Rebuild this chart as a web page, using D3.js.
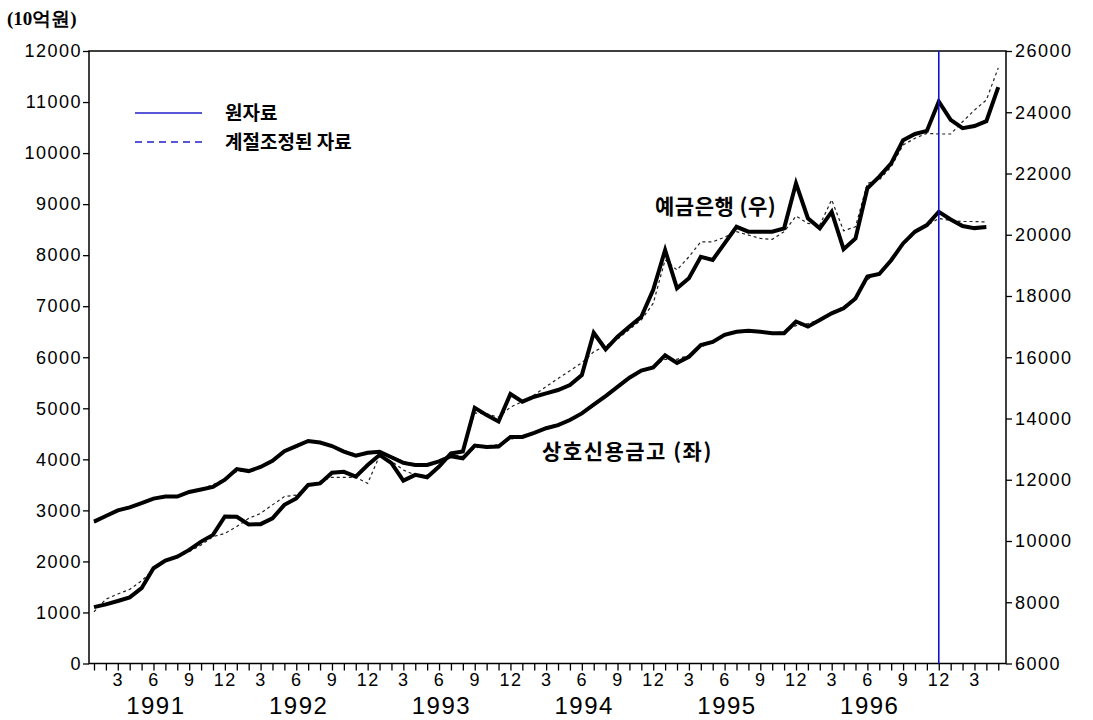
<!DOCTYPE html>
<html><head><meta charset="utf-8">
<script src="https://cdn.jsdelivr.net/npm/d3@7"></script>
<style>
body{margin:0;background:#fff;}
svg{display:block;}
</style></head>
<body>
<svg id="c" width="1093" height="720"></svg>
<script>
// month index 0 = Jan 1991
const years = [1991, 1992, 1993, 1994, 1995, 1996];
const leftTicks = [0,1000,2000,3000,4000,5000,6000,7000,8000,9000,10000,11000,12000];
const rightTicks = [6000,8000,10000,12000,14000,16000,18000,20000,22000,24000,26000];
const monthLabels = [3, 6, 9, 12];
const markerMonth = 71; // Dec 1996

// 상호신용금고 (left axis) raw
const savingsRaw = [2780,2890,3000,3060,3140,3230,3270,3270,3360,3410,3460,3600,
  3810,3770,3850,3970,4160,4260,4360,4330,4260,4150,4070,4130,
  4150,4040,3930,3890,3890,3960,4060,4020,4270,4240,4250,4440,
  4440,4520,4610,4670,4770,4900,5070,5240,5420,5600,5740,5800,
  6040,5890,6010,6240,6300,6440,6500,6520,6500,6470,6470,6700,
  6600,6730,6860,6960,7150,7580,7630,7900,8230,8460,8590,8850,
  8700,8570,8530,8550];
// 상호신용금고 seasonally adjusted
const savingsSA = [2760,2880,2990,3060,3140,3220,3270,3290,3350,3420,3500,3620,
  3760,3790,3860,3980,4150,4260,4340,4330,4270,4170,4100,4110,
  4130,4060,3960,3900,3900,3980,4080,4060,4220,4260,4290,4390,
  4460,4530,4630,4690,4780,4900,5050,5230,5430,5600,5730,5820,
  5960,5960,6040,6200,6300,6420,6490,6520,6510,6480,6500,6620,
  6660,6740,6880,6990,7180,7520,7660,7920,8200,8430,8580,8720,
  8680,8660,8660,8650];
// 예금은행 (right axis) raw
const bankRaw = [7840,7930,8040,8160,8460,9110,9360,9490,9710,9980,10200,10800,
  10790,10540,10550,10740,11180,11390,11830,11880,12230,12260,12100,12480,
  12810,12540,11970,12160,12080,12430,12860,12920,14350,14110,13900,14800,
  14550,14710,14820,14930,15090,15420,16800,16260,16670,17000,17320,18200,
  19500,18250,18580,19280,19180,19720,20260,20100,20100,20100,20210,21680,
  20540,20210,20750,19530,19880,21520,21900,22330,23090,23290,23390,24350,
  23750,23480,23550,23710,24820];
// 예금은행 seasonally adjusted
const bankSA = [7690,8100,8270,8420,8700,9060,9330,9480,9650,9870,10140,10250,
  10470,10740,10900,11180,11450,11500,11800,11950,12080,12080,12080,11880,
  12780,12600,12320,12150,12150,12400,12800,12950,14180,14150,14040,14370,
  14550,14770,15040,15310,15560,15820,16180,16370,16590,16910,17220,17760,
  19180,18850,19280,19770,19770,19920,20100,19990,19880,19850,20100,20610,
  20370,20320,21140,20130,20260,21680,21790,22220,22930,23150,23310,23290,
  23290,23690,24070,24400,25450];

const svg = d3.select("#c");
const L = 89, R = 1006, T = 51, B = 663.5;
const x = d3.scaleLinear().domain([-0.42, 76.65]).range([L, R]);
const yL = d3.scaleLinear().domain([0, 12000]).range([B, T]);
const yR = d3.scaleLinear().domain([6000, 26000]).range([B, T]);

const sans = "'Liberation Sans', Arial, sans-serif";
const kor = "'Noto Sans CJK KR', sans-serif";

// axes
const gl = svg.append("g").attr("transform", `translate(${L},0)`)
  .call(d3.axisLeft(yL).tickValues(leftTicks).tickSize(6).tickPadding(1).tickFormat(d3.format("d")));
const gr = svg.append("g").attr("transform", `translate(${R},0)`)
  .call(d3.axisRight(yR).tickValues(rightTicks).tickSize(6).tickPadding(3).tickFormat(d3.format("d")));
const months = d3.range(0, 77);
const gx = svg.append("g").attr("transform", `translate(0,${B})`)
  .call(d3.axisBottom(x).tickValues(months).tickSize(7).tickPadding(3)
    .tickFormat(i => monthLabels.includes(i % 12 + 1) ? String(i % 12 + 1) : ""));
[gl, gr, gx].forEach(g => {
  g.select(".domain").remove();
  g.selectAll("line").attr("stroke", "#000").attr("stroke-width", 1.3);
  g.selectAll("text").attr("fill", "#000").style("font-family", sans).style("font-size", "18px")
    .style("letter-spacing", "1.5px");
});

// frame
svg.append("rect").attr("x", L).attr("y", T).attr("width", R - L).attr("height", B - T)
  .attr("fill", "none").attr("stroke", "#000").attr("stroke-width", 1.5);

// year labels
svg.selectAll(".yr").data(years).enter().append("text")
  .attr("x", (d, k) => x(12 * k + 5.2)).attr("y", 714)
  .attr("text-anchor", "middle").style("font-family", sans).style("font-size", "24px")
  .style("letter-spacing", "1.5px").text(d => d);

// unit label
svg.append("text").attr("x", 7).attr("y", 25).style("font-family", "'Liberation Serif', serif")
  .style("font-size", "19px").style("font-weight", "bold").text("(10억원)");

// lines
const lineL = d3.line().x((d, i) => x(i)).y(d => yL(d));
const lineR = d3.line().x((d, i) => x(i)).y(d => yR(d));
const sa = [[savingsSA, lineL], [bankSA, lineR]];
sa.forEach(([d, f]) => svg.append("path").attr("d", f(d)).attr("fill", "none")
  .attr("stroke", "#222").attr("stroke-width", 1.2).attr("stroke-dasharray", "3,3"));
const raw = [[savingsRaw, lineL], [bankRaw, lineR]];
raw.forEach(([d, f]) => svg.append("path").attr("d", f(d)).attr("fill", "none")
  .attr("stroke", "#000").attr("stroke-width", 4).attr("stroke-linejoin", "miter"));

// vertical marker
svg.append("line").attr("x1", x(markerMonth)).attr("x2", x(markerMonth))
  .attr("y1", T).attr("y2", B).attr("stroke", "#1010d0").attr("stroke-width", 1.6);

// legend
const leg = [{t: "원자료", dash: null, y: 113}, {t: "계절조정된 자료", dash: "7,5", y: 142}];
leg.forEach(d => {
  svg.append("line").attr("x1", 135).attr("x2", 202).attr("y1", d.y).attr("y2", d.y)
    .attr("stroke", "#2020c8").attr("stroke-width", 1.5).attr("stroke-dasharray", d.dash);
  svg.append("text").attr("x", 225).attr("y", d.y + 7).style("font-family", kor)
    .style("font-size", "19px").style("font-weight", "bold").text(d.t);
});

// series labels
svg.append("text").attr("x", 655).attr("y", 214).style("font-family", kor)
  .style("font-size", "21px").style("font-weight", "bold").style("letter-spacing", "0.5px").text("예금은행 (우)");
svg.append("text").attr("x", 542).attr("y", 459).style("font-family", kor)
  .style("font-size", "21px").style("font-weight", "bold").style("letter-spacing", "1.5px").text("상호신용금고 (좌)");
</script>
</body></html>
